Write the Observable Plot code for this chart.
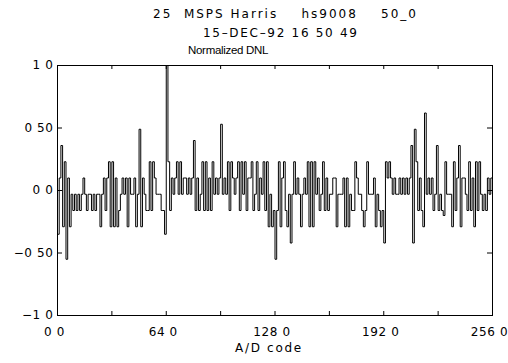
<!DOCTYPE html>
<html><head><meta charset="utf-8">
<script src="https://cdn.jsdelivr.net/npm/d3@7"></script>
<script src="https://cdn.jsdelivr.net/npm/@observablehq/plot@0.6"></script>
<style>
body{margin:0;background:#fff;}
#wrap{position:relative;width:508px;height:363px;overflow:hidden;}
.t{position:absolute;font-family:"DejaVu Sans",sans-serif;color:#000;white-space:pre;font-size:12px;line-height:12px;}
#wrap svg text{letter-spacing:0.6px;}
</style></head><body>
<div id="wrap"></div>
<script>
const titleLine1 = "25  MSPS Harris    hs9008    50_0";
const titleLine2 = "15\u2013DEC\u201392 16 50 49";
const titleLine3 = "Normalized DNL";
const xLabel = "A/D code";

const xTicks = [0, 64, 128, 192, 256];
const xTickLabels = ["0 0", "64 0", "128 0", "192 0", "256 0"];
const xMinorTicks = [32, 64, 96, 128, 160, 192, 224];
const yTicks = [-1, -0.5, 0, 0.5, 1];
const yTickLabels = ["\u22121 0", "\u22120 50", "0 0", "0 50", "1 0"];

// normalized DNL per A/D code 0..255
const dnl = [
 -0.35, 0.10, 0.36,-0.29, 0.23,-0.55, 0.10,-0.29,-0.03,-0.16,
 -0.03,-0.16,-0.03,-0.16,-0.03, 0.10,-0.03,-0.16,-0.03,-0.03,
 -0.16,-0.03,-0.16,-0.03,-0.03,-0.29,-0.03, 0.10,-0.16, 0.10,
  0.23,-0.29, 0.23,-0.29, 0.10,-0.29,-0.16,-0.03, 0.10,-0.03,
  0.10,-0.29, 0.10,-0.03,-0.03, 0.10,-0.29,-0.03, 0.49,-0.29,
  0.10,-0.03,-0.16,-0.16, 0.23,-0.16, 0.23, 0.10,-0.03,-0.03,
 -0.03,-0.16,-0.16,-0.35, 1.00, 0.23,-0.16, 0.10,-0.03, 0.10,
  0.23,-0.03, 0.23,-0.03, 0.10, 0.10,-0.03, 0.10,-0.03, 0.10,
  0.40,-0.16, 0.10,-0.16,-0.03, 0.23,-0.16, 0.23,-0.16, 0.10,
 -0.16, 0.23,-0.03, 0.10,-0.03, 0.10, 0.53,-0.03, 0.10,-0.03,
  0.23,-0.16, 0.23, 0.10,-0.03, 0.10, 0.23,-0.16, 0.23,-0.03,
  0.23,-0.16, 0.10, 0.10, 0.23,-0.16,-0.03, 0.23,-0.16, 0.10,
 -0.03, 0.23,-0.16, 0.23,-0.29,-0.03,-0.29,-0.16,-0.55,-0.16,
  0.23,-0.29, 0.10, 0.23,-0.16,-0.29,-0.03,-0.42,-0.03, 0.23,
 -0.03, 0.10,-0.03,-0.29,-0.03, 0.10,-0.03, 0.23,-0.29, 0.23,
 -0.29, 0.23,-0.03, 0.10,-0.16,-0.03, 0.23,-0.16, 0.10,-0.16,
 -0.03,-0.03, 0.10, 0.10,-0.29,-0.03,-0.03,-0.03, 0.10,-0.29,
  0.10,-0.29,-0.03,-0.16,-0.16, 0.23, 0.10,-0.03,-0.03,-0.16,
 -0.29,-0.16, 0.23,-0.03,-0.03,-0.03, 0.10,-0.29,-0.03,-0.16,
 -0.29,-0.16,-0.42, 0.23, 0.10, 0.23, 0.10,-0.03, 0.10,-0.03,
 -0.03, 0.10,-0.03, 0.10,-0.03, 0.10,-0.03, 0.10, 0.36,-0.42,
  0.49, 0.23,-0.16, 0.10,-0.16,-0.29, 0.62,-0.03, 0.10,-0.03,
  0.10,-0.16,-0.03, 0.36,-0.16,-0.03,-0.16,-0.20, 0.23,-0.03,
 -0.03,-0.03,-0.29, 0.23,-0.16, 0.10, 0.36,-0.29, 0.10, 0.10,
 -0.03,-0.16, 0.23,-0.16, 0.10,-0.29, 0.23,-0.16, 0.23,-0.03,
 -0.16,-0.03,-0.16, 0.10,-0.03, 0.10
];

const rows = dnl.map((v, i) => ({code: i, dnl: v}));
rows.push({code: dnl.length, dnl: dnl[dnl.length - 1]});

const W = 508, H = 363;
const mL = 57, mR = 16, mT = 65, mB = 48;
const fw = W - mL - mR, fh = H - mT - mB;

const chart = Plot.plot({
  width: W, height: H,
  marginLeft: mL, marginRight: mR, marginTop: mT, marginBottom: mB,
  style: {fontFamily: "'DejaVu Sans', sans-serif", fontSize: "12px", color: "#000", background: "#fff"},
  x: {domain: [0, 256]},
  y: {domain: [-1, 1]},
  marks: [
    Plot.line(rows, {x: "code", y: "dnl", curve: "step-after", stroke: "#000", strokeWidth: 1}),
    Plot.tickX(xMinorTicks, {x: d => d, insetTop: fh - 4, stroke: "#000"}),
    Plot.tickX(xMinorTicks, {x: d => d, insetBottom: fh - 4, stroke: "#000"}),
    Plot.tickY(yTicks, {y: d => d, insetRight: fw - 5, stroke: "#000"}),
    Plot.tickY(yTicks, {y: d => d, insetLeft: fw - 5, stroke: "#000"}),
    Plot.axisX({ticks: xTicks, tickSize: 0, tickPadding: 12, dx: -3, tickFormat: d => xTickLabels[xTicks.indexOf(d)], label: null}),
    Plot.axisY({ticks: yTicks, tickSize: 0, tickPadding: 4, tickFormat: d => yTickLabels[yTicks.indexOf(d)], label: null}),
    Plot.frame({stroke: "#000", strokeWidth: 1})
  ]
});

const wrap = document.getElementById("wrap");
wrap.appendChild(chart);

function addText(txt, css) {
  const d = document.createElement("div");
  d.className = "t";
  d.textContent = txt;
  Object.assign(d.style, css);
  wrap.appendChild(d);
  return d;
}
addText(titleLine1, {left: "153px", top: "8px", letterSpacing: "2px"});
addText(titleLine2, {left: "203px", top: "27px", letterSpacing: "1.7px"});
addText(titleLine3, {left: "188px", top: "44px", fontFamily: "'Liberation Sans', sans-serif", fontSize: "11.5px", letterSpacing: "-0.3px"});
addText(xLabel, {left: "235px", top: "342px", letterSpacing: "1.7px"});
</script>
</body></html>
